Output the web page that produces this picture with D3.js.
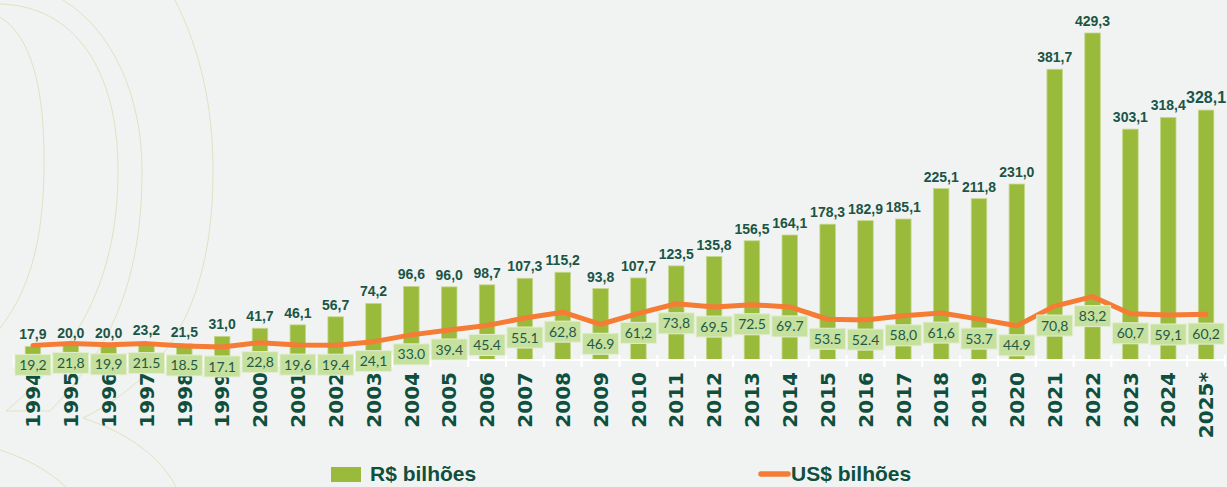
<!DOCTYPE html>
<html>
<head>
<meta charset="utf-8">
<script src="https://cdn.jsdelivr.net/npm/d3@7"></script>
<style>
  html, body { margin: 0; padding: 0; background: #f1f3f2; }
  svg { display: block; }
</style>
</head>
<body>
<svg id="chart" width="1227" height="487"></svg>
<script>
const years = ["1994","1995","1996","1997","1998","1999","2000","2001","2002","2003","2004","2005","2006","2007","2008","2009","2010","2011","2012","2013","2014","2015","2016","2017","2018","2019","2020","2021","2022","2023","2024","2025*"];
const brlValues = [17.9,20.0,20.0,23.2,21.5,31.0,41.7,46.1,56.7,74.2,96.6,96.0,98.7,107.3,115.2,93.8,107.7,123.5,135.8,156.5,164.1,178.3,182.9,185.1,225.1,211.8,231.0,381.7,429.3,303.1,318.4,328.1];
const usdValues = [19.2,21.8,19.9,21.5,18.5,17.1,22.8,19.6,19.4,24.1,33.0,39.4,45.4,55.1,62.8,46.9,61.2,73.8,69.5,72.5,69.7,53.5,52.4,58.0,61.6,53.7,44.9,70.8,83.2,60.7,59.1,60.2];
const brlLabels = ["17,9","20,0","20,0","23,2","21,5","31,0","41,7","46,1","56,7","74,2","96,6","96,0","98,7","107,3","115,2","93,8","107,7","123,5","135,8","156,5","164,1","178,3","182,9","185,1","225,1","211,8","231,0","381,7","429,3","303,1","318,4","328,1"];
const usdLabels = ["19,2","21,8","19,9","21.5","18.5","17.1","22,8","19,6","19.4","24,1","33.0","39.4","45.4","55.1","62,8","46.9","61,2","73,8","69.5","72.5","69.7","53.5","52.4","58,0","61,6","53.7","44.9","70,8","83,2","60,7","59,1","60,2"];
const legendLabels = ["R$ bilhões", "US$ bilhões"];

const svg = d3.select("#chart");
const W = 1227, H = 487;
svg.append("rect").attr("width", W).attr("height", H).attr("fill", "#f1f3f2");

// decorative arcs
const deco = svg.append("g").attr("fill", "none").attr("stroke", "#dfe2c2").attr("stroke-width", 1);
[
  "M0,17 C38,40 45,110 44,170 C43,240 30,290 0,328",
  "M0,4 C75,6 118,70 118,170 C118,270 85,345 6,411 L50,411",
  "M63,0 C112,30 142,95 142,170 C142,275 115,345 50,411",
  "M175,0 C200,50 213,105 213,170 C213,285 180,370 83,418 C125,432 160,455 176,487",
  "M0,450 C25,458 48,470 66,487"
].forEach(d => deco.append("path").attr("d", d));

const x = d3.scaleBand().domain(years).range([14, 1225]).paddingInner(0.59).paddingOuter(0.295);
const y = d3.scaleLinear().domain([0, 429.3]).range([360, 33]);
const cx = d => x(d) + x.bandwidth() / 2;

// bars
svg.append("g").selectAll("rect").data(years).join("rect")
  .attr("x", d => x(d))
  .attr("y", (d, i) => y(brlValues[i]))
  .attr("width", x.bandwidth())
  .attr("height", (d, i) => y(0) - y(brlValues[i]))
  .attr("fill", "#9aba3c")
  .attr("stroke", "#c4d88a")
  .attr("stroke-width", 0.8);

// axis line and ticks
const step = x.step();
const ax = svg.append("g").attr("stroke", "#ffffff").attr("stroke-width", 2);
ax.append("line").attr("x1", 14).attr("x2", 1225).attr("y1", y(0)).attr("y2", y(0));
ax.selectAll("line.tk").data(d3.range(years.length + 1)).join("line").attr("class", "tk")
  .attr("x1", i => 14 + i * step).attr("x2", i => 14 + i * step)
  .attr("y1", y(0) - 5).attr("y2", y(0) + 7);

// year labels (under the boxes)
svg.append("g").selectAll("text").data(years).join("text")
  .attr("transform", d => `translate(${cx(d)},372) rotate(-90)`)
  .attr("text-anchor", "end")
  .attr("dy", "0.36em")
  .attr("font-family", "DejaVu Sans, sans-serif")
  .attr("font-weight", "bold")
  .attr("font-size", 20)
  .attr("fill", "#0e4f3d")
  .text(d => d);

// bar value labels
svg.append("g").selectAll("text").data(years).join("text")
  .attr("x", d => cx(d))
  .attr("y", (d, i) => y(brlValues[i]) - 7)
  .attr("text-anchor", "middle")
  .attr("font-family", "Liberation Sans, Arial, sans-serif")
  .attr("font-weight", "bold")
  .attr("font-size", (d, i) => i === years.length - 1 ? 16 : 14)
  .attr("fill", "#1b5545")
  .text((d, i) => brlLabels[i]);

// US$ line
const line = d3.line().x((d, i) => cx(years[i])).y(d => y(d));
svg.append("path").datum(usdValues)
  .attr("d", line)
  .attr("fill", "none")
  .attr("stroke", "#f47c35")
  .attr("stroke-width", 5)
  .attr("stroke-linejoin", "round")
  .attr("stroke-linecap", "round");

// US$ labels in boxes
const bw = 36, bh = 21;
const boxes = svg.append("g").selectAll("g").data(years).join("g")
  .attr("transform", (d, i) => `translate(${cx(d)},${y(usdValues[i]) + 19.5})`);
boxes.append("rect")
  .attr("x", -bw / 2).attr("y", -bh / 2).attr("width", bw).attr("height", bh)
  .attr("fill", "#c6e09e").attr("stroke", "#e3efd2").attr("stroke-width", 1);
boxes.append("text")
  .attr("text-anchor", "middle").attr("dy", "0.36em")
  .attr("font-family", "Lato, 'Noto Sans', sans-serif")
  .attr("font-size", 14)
  .attr("fill", "#1e5a47")
  .text((d, i) => usdLabels[i]);

// legend
const lg = svg.append("g");
lg.append("rect").attr("x", 331).attr("y", 467).attr("width", 30).attr("height", 15).attr("fill", "#9aba3c");
lg.append("text").attr("x", 370).attr("y", 481)
  .attr("font-family", "Liberation Sans, Arial, sans-serif").attr("font-weight", "bold").attr("font-size", 21)
  .attr("fill", "#0e4f3d").text(legendLabels[0]);
lg.append("line").attr("x1", 761).attr("x2", 788).attr("y1", 474).attr("y2", 474)
  .attr("stroke", "#f47c35").attr("stroke-width", 5.5).attr("stroke-linecap", "round");
lg.append("text").attr("x", 791).attr("y", 481)
  .attr("font-family", "Liberation Sans, Arial, sans-serif").attr("font-weight", "bold").attr("font-size", 21)
  .attr("fill", "#0e4f3d").text(legendLabels[1]);
</script>
</body>
</html>
